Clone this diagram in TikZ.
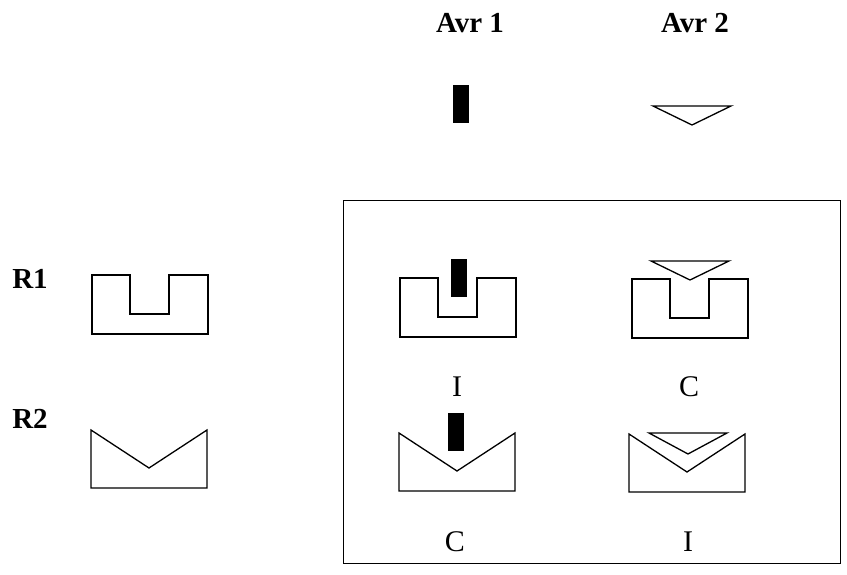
\documentclass[tikz,border=0pt]{standalone}
\usepackage{fontspec}
\setmainfont{Liberation Serif}

\tikzset{
  block/.style={draw, line width=1.3pt, line join=miter},
  head/.style={font=\fontsize{29}{29}\selectfont\bfseries, anchor=base, inner sep=0pt},
  verdict/.style={font=\fontsize{30}{30}\selectfont, anchor=base, inner sep=0pt},
  % receptor with a square slot
  pics/slot/.style={code={
    \draw[block] (0,0) -- (38,0) -- (38,39) -- (77,39) -- (77,0) -- (116,0)
      -- (116,59) -- (0,59) -- cycle;
  }},
  % receptor with a v-shaped cut
  pics/vee/.style={code={
    \draw[block] (0,0) -- (58,38) -- (116,0) -- (116,58) -- (0,58) -- cycle;
  }},
  % ligand 1: solid bar
  pics/bar/.style={code={
    \fill (0,0) rectangle (16,38);
  }},
  % ligand 2: wedge
  pics/wedge/.style={code={
    \draw[block] (0,0) -- (78,0) -- (39,#1) -- cycle;
  }},
  pics/wedge/.default=19,
}

\begin{document}
\begin{tikzpicture}[x=1pt, y=-1pt]
  \useasboundingbox (0,0) rectangle (847,575);

  % Column headers
  \node[head] (avr1) at (470,33) {Avr 1};
  \node[head] (avr2) at (695,33) {Avr 2};
  \pic at (453,85) {bar};
  \pic at (653,106) {wedge};

  % Row headers
  \node[head] (r1) at (30,288) {R1};
  \node[head] (r2) at (30,428) {R2};
  \pic at (92,275) {slot};
  \pic at (91,430) {vee};

  % Combinations
  \draw[line width=1pt] (343,201) rectangle (840,563);

  \pic at (400,278) {slot};
  \pic at (451,259) {bar};
  \node[verdict] (r1a1) at (457,396) {I};

  \pic at (632,279) {slot};
  \pic at (651,261) {wedge};
  \node[verdict] (r1a2) at (689,396) {C};

  \pic at (399,433) {vee};
  \pic at (448,413) {bar};
  \node[verdict] (r2a1) at (455,551) {C};

  \pic at (629,434) {vee};
  \pic at (649,433) {wedge=21};
  \node[verdict] (r2a2) at (688,551) {I};
\end{tikzpicture}
\end{document}
